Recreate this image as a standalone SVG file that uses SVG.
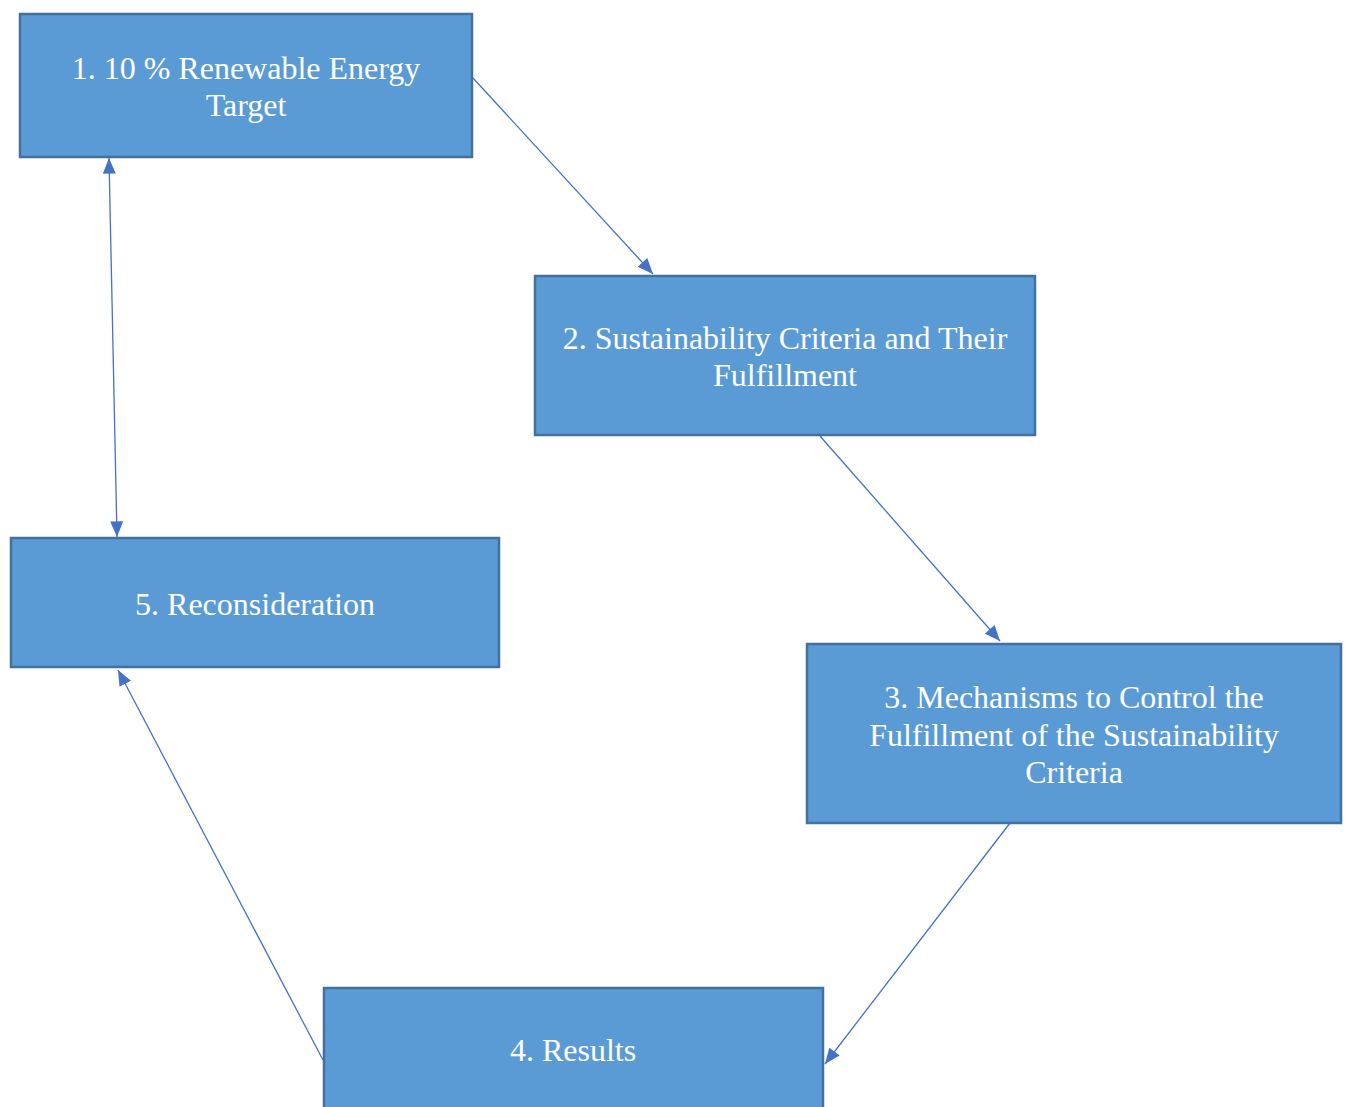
<svg xmlns="http://www.w3.org/2000/svg" width="1349" height="1107" viewBox="0 0 1349 1107">
<style>
.box{fill:#5B9BD5;stroke:#41719C;stroke-width:2.5}
.lbl{font-family:"Liberation Serif","Times New Roman",serif;font-size:32px;fill:#FFFFFF;text-anchor:middle}
.con{stroke:#4472C4;stroke-width:1.3;fill:none}
</style>
<defs>
<marker id="ah" viewBox="0 0 12 10" refX="12" refY="5" markerWidth="16" markerHeight="13" markerUnits="userSpaceOnUse" orient="auto-start-reverse">
<path d="M0,0 L12,5 L0,10 Z" fill="#4472C4"/>
</marker>
</defs>
<rect width="1349" height="1107" fill="#FFFFFF"/>
<g id="n1"><rect class="box" x="20" y="14" width="452" height="143"/>
<text class="lbl" x="246" y="79">1. 10 % Renewable Energy</text><text class="lbl" x="246" y="116">Target</text></g>
<g id="n2"><rect class="box" x="535" y="276" width="500" height="159"/>
<text class="lbl" x="785" y="349">2. Sustainability Criteria and Their</text><text class="lbl" x="785" y="386">Fulfillment</text></g>
<g id="n3"><rect class="box" x="807" y="644" width="534" height="179"/>
<text class="lbl" x="1074" y="708">3. Mechanisms to Control the</text><text class="lbl" x="1074" y="746">Fulfillment of the Sustainability</text><text class="lbl" x="1074" y="783">Criteria</text></g>
<g id="n4"><rect class="box" x="324" y="988" width="499" height="130"/>
<text class="lbl" x="573" y="1061">4. Results</text></g>
<g id="n5"><rect class="box" x="11" y="538" width="488" height="129"/>
<text class="lbl" x="255" y="615">5. Reconsideration</text></g>
<g id="connectors">
<line class="con" x1="473" y1="78" x2="653" y2="274" marker-end="url(#ah)"/>
<line class="con" x1="820" y1="436" x2="1000" y2="641" marker-end="url(#ah)"/>
<line class="con" x1="1010" y1="823" x2="825" y2="1064" marker-end="url(#ah)"/>
<line class="con" x1="323" y1="1060" x2="118" y2="670" marker-end="url(#ah)"/>
<line class="con" x1="117" y1="537" x2="109" y2="158" marker-start="url(#ah)" marker-end="url(#ah)"/>
</g>
</svg>
